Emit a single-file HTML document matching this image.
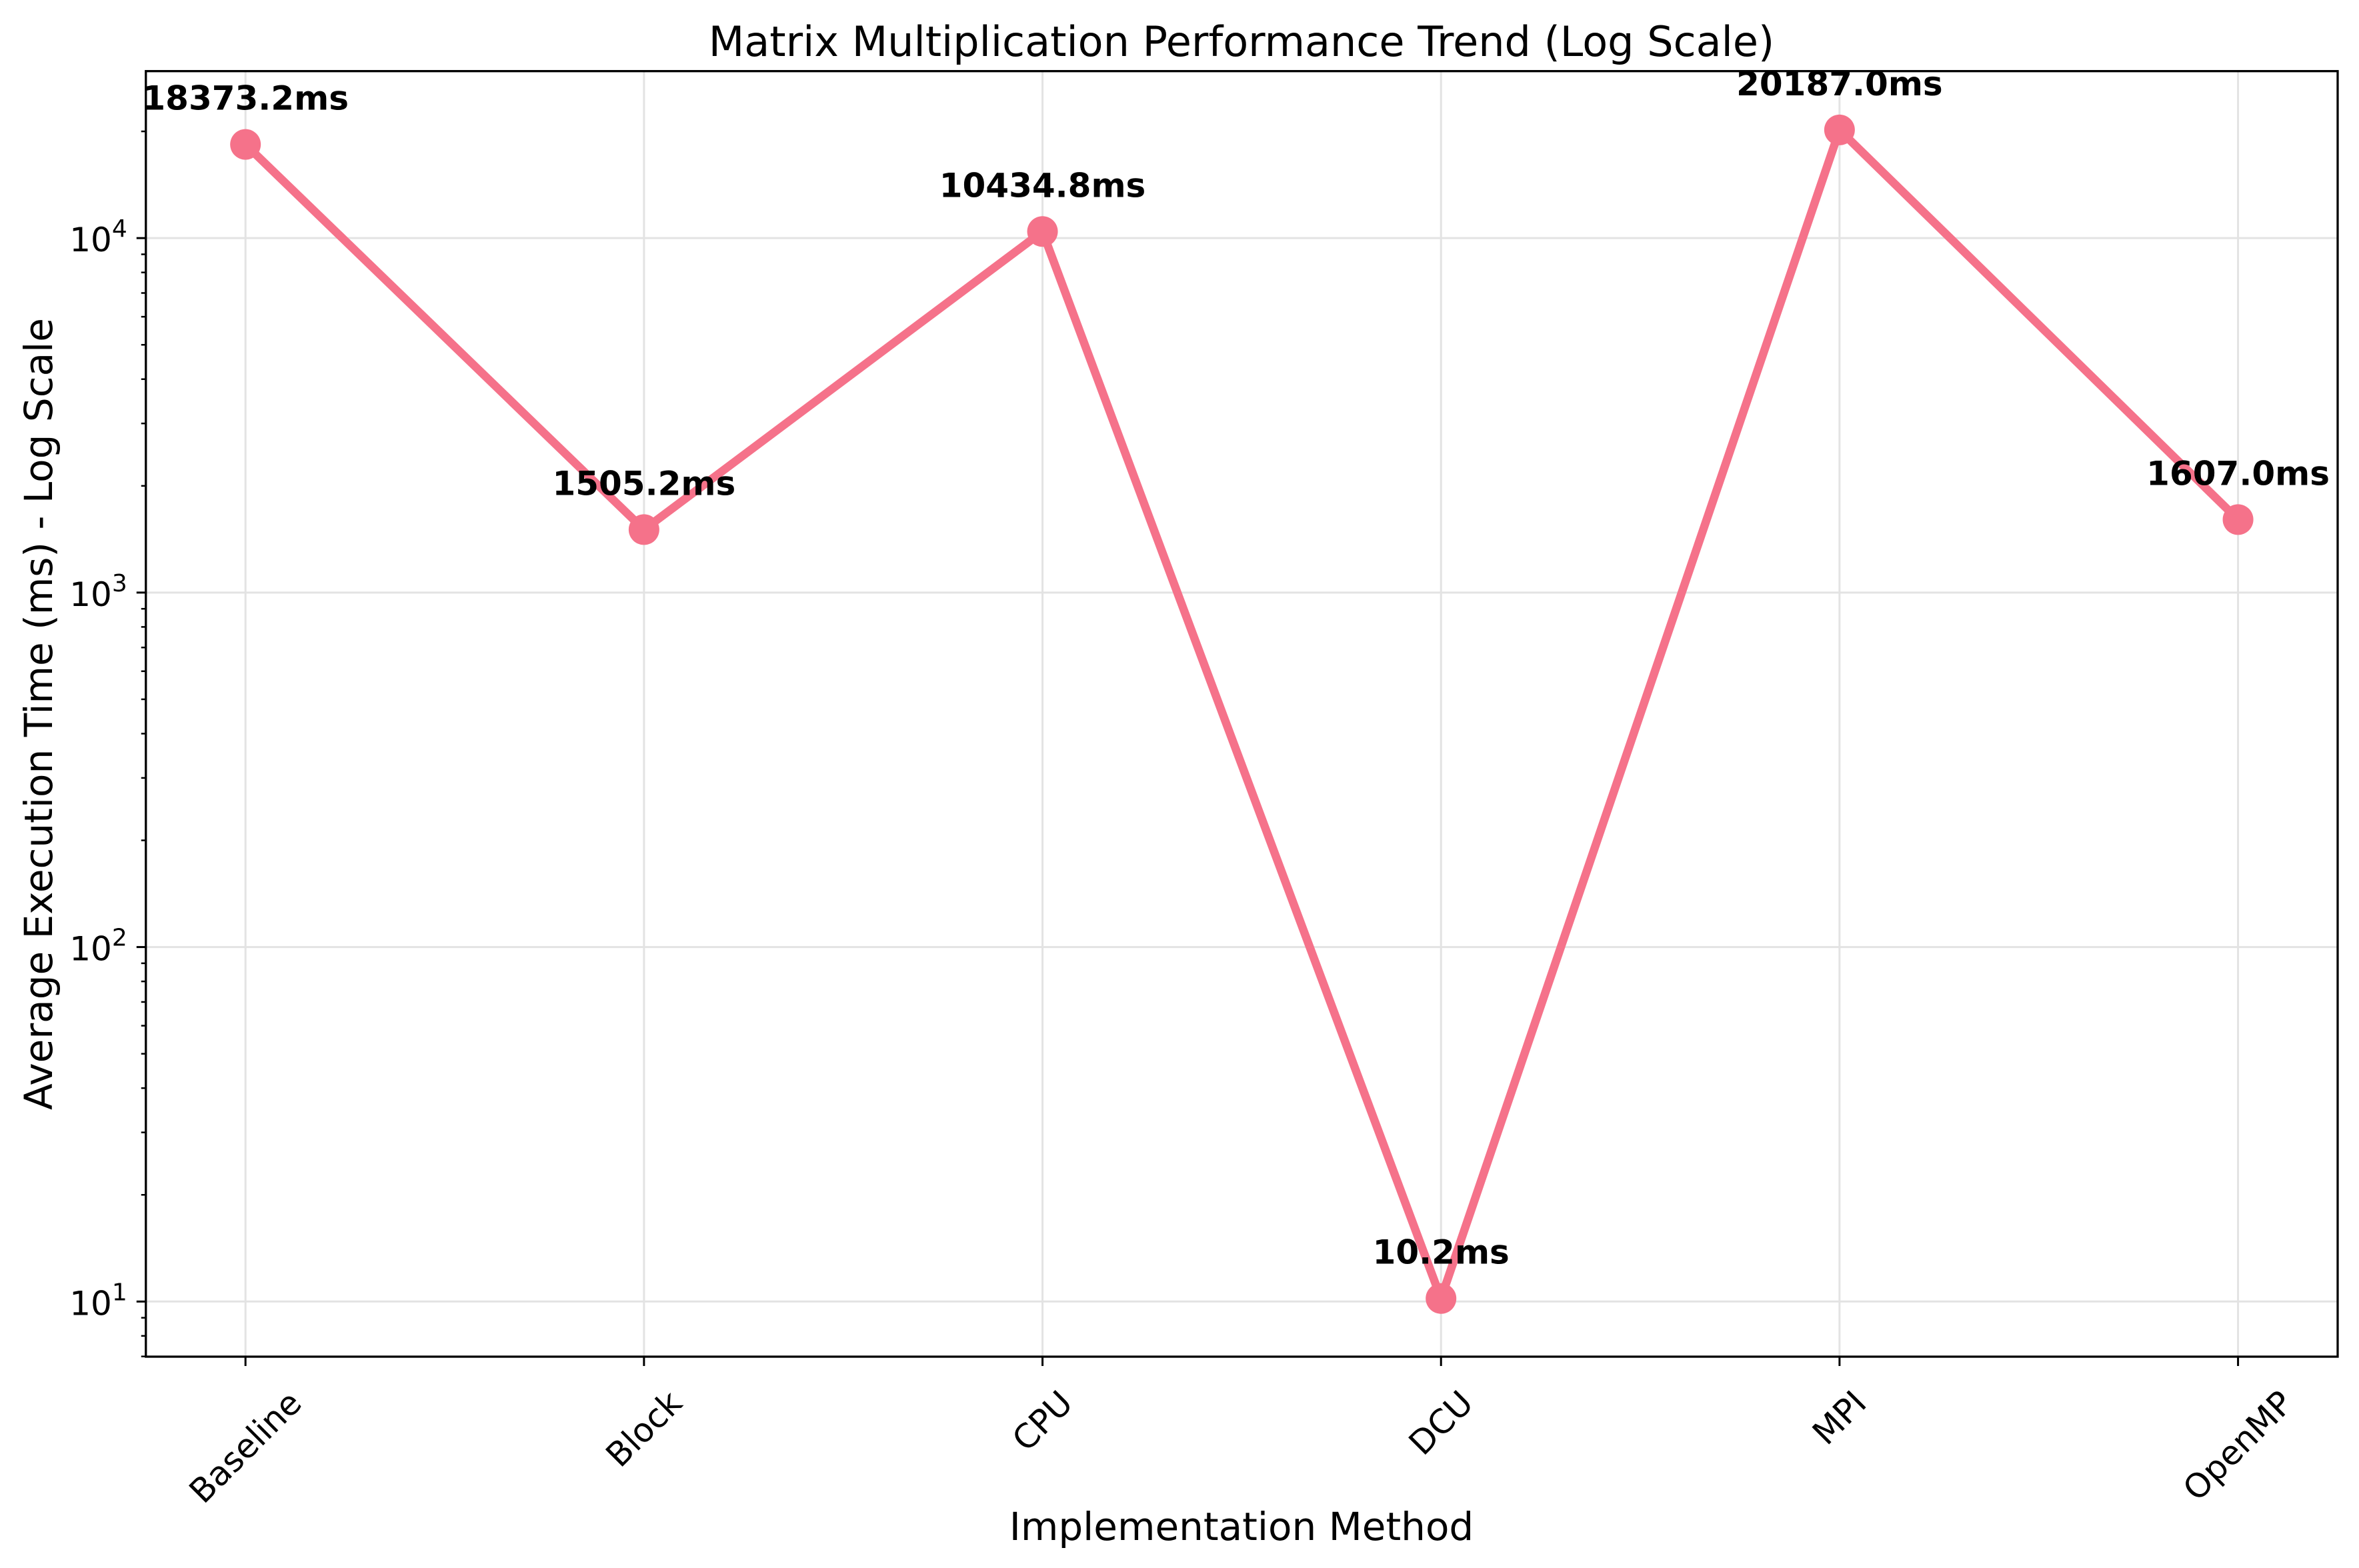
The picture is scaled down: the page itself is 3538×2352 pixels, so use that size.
<!DOCTYPE html>
<html><head><meta charset="utf-8"><style>
html,body{margin:0;padding:0;background:#fff;}
svg{display:block;font-family:"DejaVu Sans","Liberation Sans",sans-serif;}
</style></head><body>
<svg id="chart" width="3538" height="2352" viewBox="0 0 3538 2352" xmlns="http://www.w3.org/2000/svg">
<rect width="3538" height="2352" fill="#fff"/>
<text x="1862" y="84" font-size="62" text-anchor="middle">Matrix Multiplication Performance Trend (Log Scale)</text>
<text x="1862" y="2310" font-size="58" text-anchor="middle">Implementation Method</text>
<text transform="translate(78,1071) rotate(-90)" font-size="58" text-anchor="middle">Average Execution Time (ms) - Log Scale</text>
<g id="grid"></g><g id="axes"></g><g id="series"></g><g id="labels"></g>
</svg>
<script>
const categories = ["Baseline","Block","CPU","DCU","MPI","OpenMP"];
const values = [18373.2, 1505.2, 10434.8, 10.2, 20187.0, 1607.0];
const valueLabels = ["18373.2ms","1505.2ms","10434.8ms","10.2ms","20187.0ms","1607.0ms"];
const yTickExps = [1,2,3,4];

const L=218.75, R=3506, T=106.7, B=2035;
const yMinLog=Math.log10(6.99), yMaxLog=Math.log10(29580);
const NS="http://www.w3.org/2000/svg";
function xs(i){ const step=(R-L)/(categories.length-1+0.5); return L+step*0.25+i*step; }
function ys(v){ return B-(Math.log10(v)-yMinLog)/(yMaxLog-yMinLog)*(B-T); }
function mk(tag,attrs,parent){ const e=document.createElementNS(NS,tag); for(const k in attrs) e.setAttribute(k,attrs[k]); parent.appendChild(e); return e; }
const grid=document.getElementById('grid'), axes=document.getElementById('axes'), series=document.getElementById('series'), labels=document.getElementById('labels');

yTickExps.forEach(p=>{
  const y=ys(Math.pow(10,p));
  const g=mk('line',{x1:L,x2:R,y1:y,y2:y,stroke:'#e3e3e3','stroke-width':3},grid);
  
  
  const t=mk('line',{x1:L-14,x2:L,y1:y,y2:y,stroke:'#000','stroke-width':3},axes);
  
  
  const tx=mk('text',{x:L-28,y:y+20,'font-size':50,'text-anchor':'end'},axes);
  
  
  tx.innerHTML='10<tspan dy="-22" font-size="36">'+p+'</tspan>';
});
for(let p=0;p<=4;p++){ for(let m=2;m<=9;m++){ const v=m*Math.pow(10,p); const y=ys(v); if(y<T-1||y>B+1) continue;
  const t=mk('line',{x1:L-7,x2:L,y1:y,y2:y,stroke:'#000','stroke-width':2.5},axes);
  
  
}}
categories.forEach((c,i)=>{
  const x=xs(i);
  const g=mk('line',{x1:x,x2:x,y1:T,y2:B,stroke:'#e3e3e3','stroke-width':3},grid);
  
  
  const t=mk('line',{x1:x,x2:x,y1:B,y2:B+14,stroke:'#000','stroke-width':3},axes);
  
  
  const tx=mk('text',{'font-size':50,'text-anchor':'middle','dominant-baseline':'central'},axes);
  
  
  tx.textContent=c;
  const w=tx.getComputedTextLength();
  const h=(w+50)*0.7071;
  tx.setAttribute('transform','translate('+x+','+(2078+h/2)+') rotate(-45)');
});
const frame=mk('rect',{x:L,y:T,width:R-L,height:B-T,fill:'none',stroke:'#000','stroke-width':3.3},axes);



const pts=values.map((v,i)=>xs(i)+','+ys(v)).join(' ');
const line=mk('polyline',{points:pts,fill:'none',stroke:'#f5728a','stroke-width':12.5,'stroke-linejoin':'round'},series);


values.forEach((v,i)=>{
  const c=mk('circle',{cx:xs(i),cy:ys(v),r:23,fill:'#f5728a'},series);
  
  
  const t=mk('text',{x:xs(i),y:ys(v)-52,'font-size':50,'font-weight':'bold','text-anchor':'middle'},labels);
  
  
  t.textContent=valueLabels[i];
});
</script>
</body></html>
